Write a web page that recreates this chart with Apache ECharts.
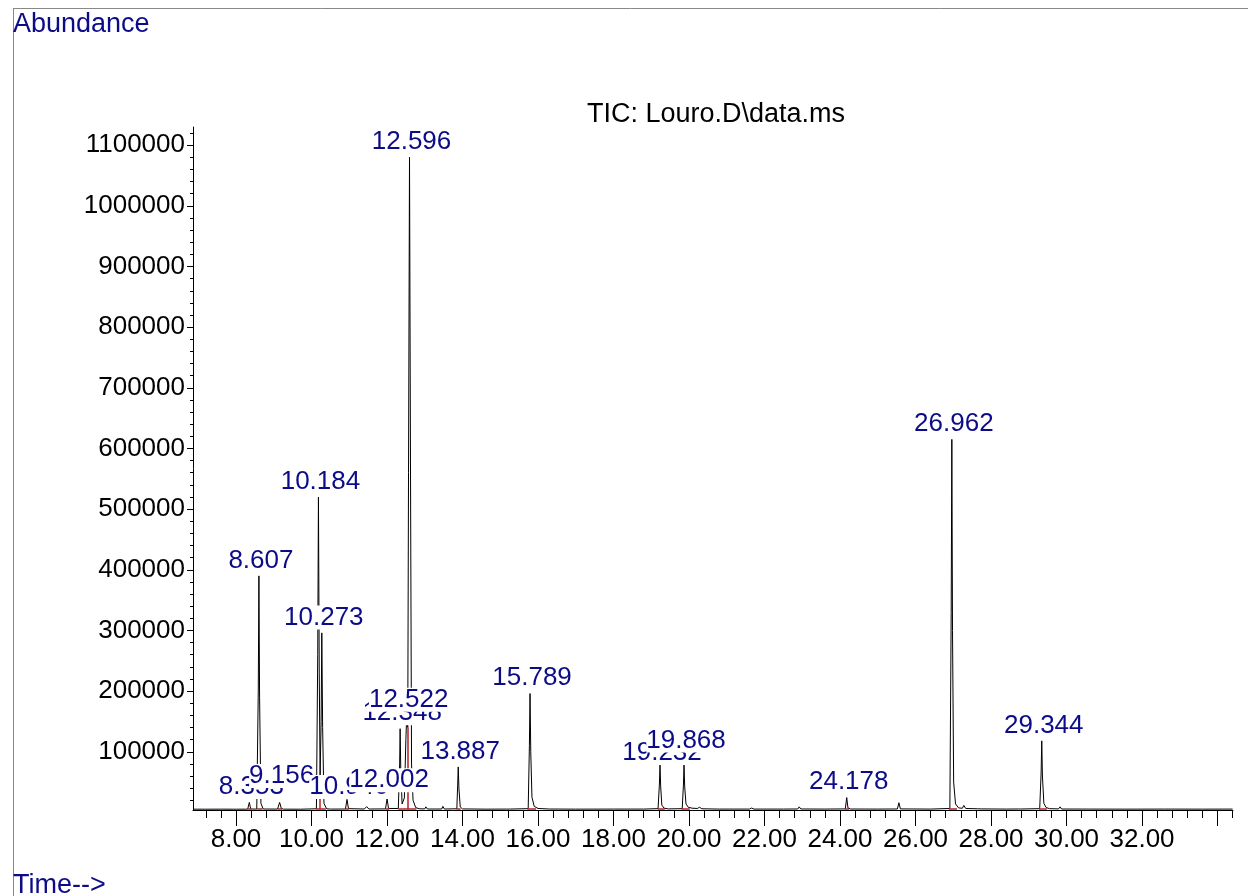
<!DOCTYPE html>
<html>
<head>
<meta charset="utf-8">
<script src="https://cdn.jsdelivr.net/npm/echarts@6/dist/echarts.min.js"></script>
<style>
html,body{margin:0;padding:0;background:#fff;}
#main{width:1248px;height:896px;}
</style>
</head>
<body>
<div id="main"></div>
<script>
// ---- data ----
const tic = [
  [6.87, 5400], [7.20, 5300], [7.60, 5400], [7.93, 5300], [7.97, 7200], [8.01, 5300],
  [8.31, 5400], [8.353, 16500], [8.39, 5600], [8.55, 5500], [8.59, 200000], [8.607, 390000],
  [8.625, 190000], [8.66, 15000], [8.72, 5600], [9.10, 5500], [9.156, 16500], [9.20, 6500],
  [9.26, 5400], [9.70, 5300], [10.13, 6000], [10.165, 260000], [10.184, 520000], [10.205, 230000],
  [10.228, 60000], [10.255, 150000], [10.273, 296000], [10.295, 140000], [10.33, 15000], [10.40, 6000],
  [10.50, 5500], [10.90, 5600], [10.940, 21500], [10.98, 6200], [11.40, 5600], [11.46, 9500],
  [11.52, 5600], [11.96, 5800], [12.002, 22500], [12.04, 6500], [12.30, 6500], [12.335, 80000],
  [12.348, 138000], [12.365, 70000], [12.40, 14000], [12.46, 24000], [12.50, 120000], [12.522, 160000],
  [12.55, 140000], [12.57, 560000], [12.596, 1080000], [12.625, 520000], [12.65, 80000], [12.69, 20000],
  [12.76, 8000], [12.85, 6000], [13.00, 5800], [13.03, 9200], [13.07, 5600], [13.45, 5600],
  [13.48, 10000], [13.52, 5600], [13.85, 6000], [13.872, 45000], [13.887, 75000], [13.905, 40000],
  [13.94, 9000], [14.00, 5800], [14.60, 5400], [15.16, 5500], [15.20, 8000], [15.24, 5500],
  [15.74, 6200], [15.772, 110000], [15.789, 196000], [15.808, 100000], [15.84, 25000], [15.90, 10000],
  [16.00, 6500], [16.30, 5600], [17.00, 5400], [18.00, 5500], [18.80, 5500], [19.18, 6200],
  [19.215, 45000], [19.232, 78000], [19.25, 42000], [19.28, 12000], [19.34, 7000], [19.45, 5800],
  [19.82, 6200], [19.852, 45000], [19.868, 78000], [19.886, 42000], [19.92, 14000], [19.98, 8500],
  [20.08, 7000], [20.22, 6500], [20.28, 8500], [20.34, 6000], [20.80, 5500], [21.60, 5500],
  [21.66, 7200], [21.72, 5500], [22.50, 5500], [22.88, 5700], [22.92, 9200], [22.96, 5700],
  [23.60, 5500], [24.14, 5800], [24.178, 24500], [24.21, 7500], [24.28, 5600], [25.00, 5500],
  [25.52, 5700], [25.56, 16000], [25.60, 5800], [26.40, 5500], [26.91, 6500], [26.945, 330000],
  [26.962, 615000], [26.98, 300000], [27.01, 50000], [27.06, 14000], [27.14, 7500], [27.24, 6800],
  [27.28, 11500], [27.33, 6500], [27.64, 6000], [27.69, 8500], [27.74, 5800], [28.40, 5500],
  [28.72, 5700], [28.75, 8500], [28.79, 5600], [29.29, 6200], [29.327, 65000], [29.344, 118000],
  [29.362, 60000], [29.40, 15000], [29.46, 8000], [29.55, 6200], [29.79, 5800], [29.83, 9200],
  [29.87, 5600], [30.60, 5500], [31.60, 5400], [32.60, 5500], [33.60, 5400], [34.40, 5500]
];

const peakTimes = [8.353, 8.607, 9.156, 10.184, 10.273, 10.940, 12.002, 12.348, 12.522, 12.596, 13.887, 15.789, 19.232, 19.868, 24.178, 26.962, 29.344];
const peakApex  = [16500, 390000, 16500, 520000, 296000, 21500, 22500, 138000, 160000, 1080000, 75000, 196000, 78000, 78000, 24500, 615000, 118000];
const peakNames = ['8.353', '8.607', '9.156', '10.184', '10.273', '10.940', '12.002', '12.348', '12.522', '12.596', '13.887', '15.789', '19.232', '19.868', '24.178', '26.962', '29.344'];

const integStart = [8.32, 8.56, 9.11, 10.12, 10.90, 11.96, 12.30, 12.40, 13.84, 15.72, 19.17, 19.80, 24.13, 26.88, 29.27];
const integEnd   = [8.40, 8.70, 9.22, 10.38, 10.99, 12.06, 12.40, 12.78, 13.95, 15.95, 19.36, 20.02, 24.24, 27.10, 29.48];
const integBase  = 5300;
const dropTimes  = [10.228, 12.55];
const dropTops   = [60000, 140000];

const xMajorTicks = [8, 10, 12, 14, 16, 18, 20, 22, 24, 26, 28, 30, 32, 34];
const xTickLabels = [8, 10, 12, 14, 16, 18, 20, 22, 24, 26, 28, 30, 32];
const yTickLabels = [100000, 200000, 300000, 400000, 500000, 600000, 700000, 800000, 900000, 1000000, 1100000];

// ---- layout / style ----
const X_MIN = 6.861, X_MAX = 34.41;
const Y_MIN = 4000, Y_MAX = 1130000;
const FONT = "'Liberation Sans', Arial, sans-serif";
const NAVY = '#0c0c88';
const labelLift = {'9.156': 11, '19.868': 9, '12.002': 3, '10.940': -3, '19.232': -3};

const xMinorTicks = [];
for (let k = 18; k <= 86; k++) xMinorTicks.push(+(k * 0.4).toFixed(1));
const yMinorTicks = [];
for (let k = 1; k <= 56; k++) yMinorTicks.push(k * 20000);

const labelData = peakTimes.map((t, i) => ({
  value: [t, peakApex[i]],
  name: peakNames[i],
  label: {offset: [2, -(labelLift[peakNames[i]] || 0)]}
}));

const redSegs = integStart.map((s, i) => ({coords: [[s, integBase], [integEnd[i], integBase]]}))
  .concat(dropTimes.map((t, i) => ({coords: [[t, integBase], [t, dropTops[i]]]})));

const chart = echarts.init(document.getElementById('main'));
chart.setOption({
  animation: false,
  backgroundColor: '#fff',
  textStyle: {fontFamily: FONT},
  title: [
    {text: 'Abundance', left: 13, top: 11, padding: 0,
     textStyle: {fontFamily: FONT, fontSize: 27, fontWeight: 'normal', color: NAVY}},
    {text: 'TIC: Louro.D\\data.ms', left: 587, top: 101, padding: 0,
     textStyle: {fontFamily: FONT, fontSize: 27, fontWeight: 'normal', color: '#000'}},
    {text: 'Time-->', left: 13, top: 872, padding: 0,
     textStyle: {fontFamily: FONT, fontSize: 27, fontWeight: 'normal', color: NAVY}}
  ],
  graphic: [
    {type: 'line', shape: {x1: 13, y1: 8.5, x2: 1248, y2: 8.5}, style: {stroke: '#888', lineWidth: 1}, silent: true},
    {type: 'line', shape: {x1: 13.5, y1: 8, x2: 13.5, y2: 896}, style: {stroke: '#888', lineWidth: 1}, silent: true}
  ],
  grid: {left: 193, right: 15, top: 127, bottom: 86, containLabel: false},
  xAxis: [
    {type: 'value', min: X_MIN, max: X_MAX, position: 'bottom',
     axisLine: {show: true, onZero: false, lineStyle: {color: '#000', width: 1}},
     axisTick: {show: true, customValues: xMajorTicks, length: 16, lineStyle: {color: '#000', width: 1}},
     axisLabel: {show: true, customValues: xTickLabels, formatter: v => Number(v).toFixed(2),
                 fontFamily: FONT, fontSize: 26, color: '#000', margin: 17},
     splitLine: {show: false}},
    {type: 'value', min: X_MIN, max: X_MAX, position: 'bottom',
     axisLine: {show: false, onZero: false},
     axisTick: {show: true, customValues: xMinorTicks, length: 8, lineStyle: {color: '#000', width: 1}},
     axisLabel: {show: false}, splitLine: {show: false}}
  ],
  yAxis: [
    {type: 'value', min: Y_MIN, max: Y_MAX, position: 'left',
     axisLine: {show: true, onZero: false, lineStyle: {color: '#000', width: 1}},
     axisTick: {show: true, customValues: yTickLabels, length: 6, lineStyle: {color: '#000', width: 1}},
     axisLabel: {show: true, customValues: yTickLabels, formatter: v => String(v),
                 fontFamily: FONT, fontSize: 26, color: '#000', margin: 8},
     splitLine: {show: false}},
    {type: 'value', min: Y_MIN, max: Y_MAX, position: 'left',
     axisLine: {show: false, onZero: false},
     axisTick: {show: true, customValues: yMinorTicks, length: 3, lineStyle: {color: '#000', width: 1}},
     axisLabel: {show: false}, splitLine: {show: false}}
  ],
  series: [
    {type: 'line', name: 'TIC', data: tic, xAxisIndex: 0, yAxisIndex: 0,
     symbol: 'none', showSymbol: false, silent: true, z: 2,
     lineStyle: {color: '#000', width: 1}},
    {type: 'lines', coordinateSystem: 'cartesian2d', xAxisIndex: 0, yAxisIndex: 0,
     data: redSegs, silent: true, z: 3,
     lineStyle: {color: '#b22222', width: 1.5, opacity: 1}},
    {type: 'scatter', data: labelData, xAxisIndex: 0, yAxisIndex: 0,
     symbolSize: 1, itemStyle: {color: 'rgba(255,255,255,0)', opacity: 1}, silent: true, z: 10,
     label: {show: true, position: 'top', distance: 3, formatter: p => p.name,
             fontFamily: FONT, fontSize: 26, lineHeight: 24, color: NAVY, opacity: 1,
             backgroundColor: '#ffffff', padding: 0}}
  ]
});
</script>
</body>
</html>
